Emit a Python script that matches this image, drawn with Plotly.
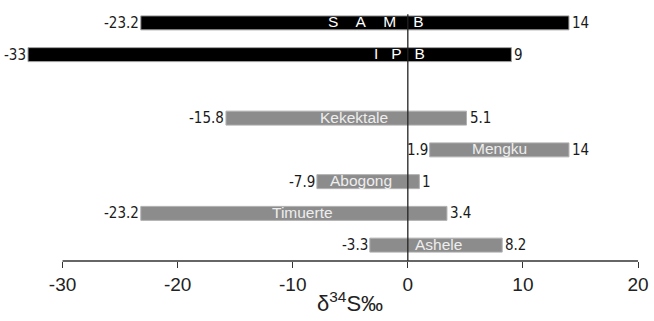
import plotly.graph_objects as go

categories = ["SAMB", "IPB", "", "Kekektale", "Mengku", "Abogong", "Timuerte", "Ashele"]
bar_labels = ["S\u00a0\u00a0\u00a0\u00a0A\u00a0\u00a0\u00a0\u00a0M\u00a0\u00a0\u00a0\u00a0B",
              "I\u00a0\u00a0\u00a0P\u00a0\u00a0\u00a0B", "",
              "Kekektale", "Mengku", "Abogong", "Timuerte", "Ashele"]
min_vals = [-23.2, -33, None, -15.8, 1.9, -7.9, -23.2, -3.3]
max_vals = [14, 9, None, 5.1, 14, 1, 3.4, 8.2]
min_text = ["-23.2", "-33", "", "-15.8", "1.9", "-7.9", "-23.2", "-3.3"]
max_text = ["14", "9", "", "5.1", "14", "1", "3.4", "8.2"]
label_x = [-2.8, -0.7, None, -4.66, 7.96, -4.04, -9.19, 2.67]
is_black = [True, True, False, False, False, False, False, False]

x_ticks = [-30, -20, -10, 0, 10, 20]
x_title = "δ<sup>34</sup>S‰"

pos = list(range(len(categories)))
widths = [(b - a) if a is not None else None for a, b in zip(min_vals, max_vals)]
colors = ["#000000" if k else "#8c8c8c" for k in is_black]
line_colors = ["#a0a0a0" if k else "#b0b0b0" for k in is_black]

fig = go.Figure()
fig.add_trace(go.Bar(
    y=pos, x=widths, base=min_vals, orientation="h", width=0.44,
    marker=dict(color=colors, line=dict(color=line_colors, width=1)),
    hoverinfo="skip", showlegend=False,
))

narrow = "Liberation Sans Narrow, Arial Narrow, DejaVu Sans Condensed, sans-serif"
regular = "Liberation Sans, Arial, sans-serif"
annotations = []
for i in pos:
    if min_vals[i] is None:
        continue
    annotations.append(dict(x=min_vals[i], y=i, text=min_text[i], showarrow=False,
                            xanchor="right", yanchor="middle", xshift=0,
                            font=dict(family=narrow, size=15, color="#1a1a1a")))
    annotations.append(dict(x=max_vals[i], y=i, text=max_text[i], showarrow=False,
                            xanchor="left", yanchor="middle", xshift=1,
                            font=dict(family=narrow, size=15, color="#1a1a1a")))
    annotations.append(dict(x=label_x[i], y=i, text=bar_labels[i], showarrow=False,
                            xanchor="center", yanchor="middle", yshift=1,
                            font=dict(family=regular, size=15.5,
                                      color="#ffffff" if is_black[i] else "#eeeeee")))

# axis title centred under the drawn axis span
annotations.append(dict(x=(x_ticks[0] + x_ticks[-1]) / 2, y=0, xref="x", yref="paper",
                        text=x_title, showarrow=False, xanchor="center", yanchor="middle",
                        yshift=-41, font=dict(family=regular, size=22, color="#222222")))

# vertical zero line
fig.add_shape(type="line", xref="x", yref="y", x0=0, x1=0, y0=-0.27, y1=7.5,
              line=dict(color="#222222", width=1.3), layer="above")
# x axis line spanning the tick range only
fig.add_shape(type="line", xref="x", yref="paper", x0=x_ticks[0], x1=x_ticks[-1], y0=0, y1=0,
              line=dict(color="#333333", width=1.3), layer="above")

fig.update_layout(
    width=654, height=321,
    margin=dict(l=5, r=14, t=7, b=60),
    plot_bgcolor="white", paper_bgcolor="white",
    annotations=annotations,
    xaxis=dict(range=[-35, 20], tickvals=x_ticks, ticktext=[str(v) for v in x_ticks],
               showgrid=False, zeroline=False, showline=False,
               ticks="outside", ticklen=6, tickwidth=1.3, tickcolor="#333333",
               tickfont=dict(family=regular, size=19, color="#222222"),
               fixedrange=True),
    yaxis=dict(range=[7.5, -0.5], showgrid=False, zeroline=False, showline=False,
               showticklabels=False, ticks="", fixedrange=True),
)

fig.write_html("out.html")
